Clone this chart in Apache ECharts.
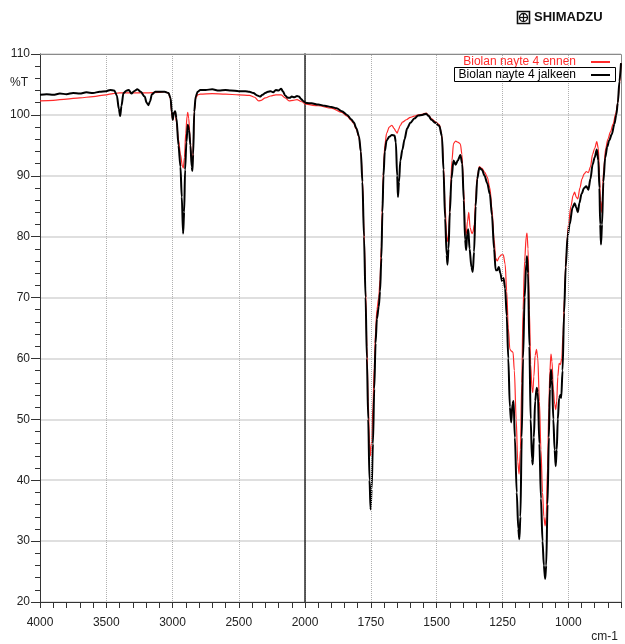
<!DOCTYPE html>
<html>
<head>
<meta charset="utf-8">
<title>FTIR – Biolan nayte 4</title>
<script src="https://cdn.jsdelivr.net/npm/echarts@6/dist/echarts.min.js"></script>
<style>
  html, body { margin: 0; padding: 0; background: #fff; }
  #chart { width: 625px; height: 644px; }
</style>
</head>
<body>
<div id="chart"></div>
<script>
// Series names
const NAME_ENNEN = 'Biolan nayte 4 ennen';
const NAME_JALKEEN = 'Biolan nayte 4 jalkeen';

// Transmittance spectra: [wavenumber cm-1, %T]
const ennen = [
  [4000,102.3],[3900,102.4],[3800,102.6],[3700,102.8],[3600,103.0],[3500,103.3],
  [3450,103.5],[3400,103.6],[3300,103.6],[3200,103.6],[3100,103.7],[3060,103.8],
  [3030,103.6],[3015,102.6],[3005,100.0],[2998,99.2],[2990,100.3],[2980,100.2],
  [2970,98.8],[2955,96.0],[2940,93.5],[2925,91.6],[2918,91.3],[2910,93.0],
  [2900,97.0],[2890,99.8],[2885,100.4],[2878,99.5],[2868,96.5],[2858,92.8],
  [2851,91.6],[2845,93.8],[2836,100.5],[2825,102.7],[2810,103.3],[2790,103.4],
  [2700,103.5],[2600,103.4],[2500,103.3],[2420,103.2],[2380,102.9],[2350,102.3],
  [2330,102.4],[2300,102.8],[2260,103.1],[2220,103.3],[2180,103.3],[2150,102.8],
  [2120,102.3],[2090,102.4],[2060,102.5],[2030,102.2],[2000,101.8],
  [1950,101.5],[1900,101.1],[1860,100.4],[1840,99.8],[1825,99.1],[1815,98.6],
  [1805,97.6],[1795,96.3],[1788,94.0],[1782,89.5],[1776,81.0],[1770,71.5],
  [1765,62.0],[1760,53.0],[1755,46.0],[1751,44.0],[1747,46.5],[1742,52.0],
  [1737,58.5],[1732,64.5],[1727,68.0],[1720,70.0],[1715,73.0],[1710,78.5],
  [1706,85.5],[1702,91.0],[1697,95.0],[1690,97.0],[1680,98.0],[1670,98.3],
  [1662,97.8],[1655,97.3],[1650,97.0],[1645,97.6],[1638,98.3],[1630,98.8],
  [1615,99.2],[1600,99.6],[1585,99.8],[1570,100.0],[1555,100.1],[1540,100.3],
  [1530,99.9],[1520,99.4],[1505,98.9],[1490,98.4],[1480,96.6],[1474,91.5],
  [1468,85.0],[1462,80.0],[1458,79.2],[1454,81.0],[1448,87.0],[1442,92.5],
  [1436,95.3],[1428,95.7],[1418,95.5],[1410,95.2],[1404,93.5],[1398,88.0],
  [1392,81.5],[1388,80.3],[1383,82.5],[1378,84.0],[1373,81.5],[1366,80.5],
  [1362,80.8],[1357,82.0],[1352,86.0],[1346,89.8],[1338,91.5],[1328,91.2],
  [1318,90.6],[1308,89.8],[1298,88.0],[1290,84.5],[1282,79.5],[1276,76.5],
  [1270,76.0],[1262,76.7],[1254,77.0],[1247,77.0],[1240,75.5],[1234,71.0],
  [1228,65.0],[1222,61.5],[1216,61.2],[1210,61.0],[1205,58.0],[1198,50.0],
  [1192,43.0],[1187,41.0],[1182,45.0],[1177,56.0],[1172,68.0],[1166,76.0],
  [1160,80.0],[1157,80.6],[1153,78.0],[1148,68.0],[1143,59.0],[1138,55.0],
  [1135,54.4],[1131,57.0],[1126,60.5],[1121,61.5],[1116,60.0],[1110,53.0],
  [1104,45.0],[1098,38.0],[1093,34.0],[1088,32.5],[1084,34.0],[1079,42.0],
  [1074,52.0],[1070,58.0],[1066,60.7],[1062,59.5],[1057,55.0],[1052,52.5],
  [1048,51.6],[1044,53.0],[1040,57.0],[1035,59.2],[1030,59.0],[1025,60.0],
  [1020,64.0],[1015,70.0],[1008,77.0],[1000,82.0],[990,85.0],[982,86.8],
  [976,87.3],[970,86.5],[964,86.2],[956,88.0],[948,89.5],[940,90.3],
  [932,90.7],[924,90.5],[916,91.5],[908,93.5],[900,94.5],[892,95.6],
  [886,94.5],[882,90.5],[878,86.0],[875,84.0],[871,86.0],[866,91.0],
  [858,94.5],[850,96.0],[840,97.2],[830,98.5],[820,100.2],[812,102.0],
  [806,105.0],[800,108.5]
];

const jalkeen = [
  [4000,103.3],[3950,103.4],[3900,103.3],[3850,103.5],[3800,103.4],[3750,103.6],
  [3700,103.5],[3650,103.7],[3600,103.6],[3550,103.8],[3500,103.9],[3470,104.1],
  [3440,104.0],[3420,103.2],[3405,101.0],[3395,99.8],[3385,101.5],[3370,103.6],
  [3345,104.0],[3330,104.1],[3310,103.5],[3290,103.9],[3265,104.2],[3240,103.8],
  [3210,103.0],[3195,102.0],[3182,101.6],[3170,102.2],[3155,103.4],[3130,103.8],
  [3100,103.8],[3060,103.8],[3030,103.6],[3015,102.8],[3005,100.5],[2998,99.2],
  [2990,100.3],[2980,100.6],[2970,99.5],[2955,95.0],[2940,91.5],[2930,86.5],
  [2920,80.5],[2912,84.0],[2905,91.0],[2895,95.5],[2885,98.4],[2875,97.5],
  [2865,95.0],[2855,91.5],[2850,90.8],[2844,93.5],[2836,100.5],[2825,103.0],
  [2810,103.8],[2790,104.1],[2750,104.1],[2700,104.2],[2650,104.0],[2600,104.1],
  [2560,104.0],[2500,103.9],[2450,103.9],[2420,103.8],[2390,103.6],[2360,103.2],
  [2340,103.0],[2320,103.3],[2300,103.6],[2280,103.8],[2260,103.9],[2240,103.7],
  [2220,104.1],[2200,104.0],[2180,104.3],[2165,103.8],[2150,103.2],[2130,102.8],
  [2115,102.8],[2100,103.0],[2080,102.9],[2060,103.1],[2045,103.0],[2030,102.6],
  [2015,102.3],[2000,102.0],
  [1975,101.9],[1950,101.7],[1925,101.5],[1900,101.3],[1880,101.1],[1860,100.6],
  [1840,100.0],[1825,99.3],[1815,98.8],[1805,97.8],[1795,96.5],[1788,94.0],
  [1782,89.0],[1776,80.0],[1770,70.0],[1765,60.0],[1760,50.0],[1755,40.0],
  [1751,35.2],[1747,38.5],[1742,46.0],[1737,55.0],[1732,62.5],[1727,66.5],
  [1720,68.5],[1715,71.0],[1710,76.5],[1706,84.0],[1702,90.0],[1697,94.0],
  [1690,95.8],[1680,96.4],[1670,96.7],[1660,96.6],[1655,95.5],[1650,90.0],
  [1647,86.5],[1643,89.0],[1638,92.5],[1630,94.3],[1622,96.0],[1612,97.8],
  [1600,98.7],[1585,99.4],[1570,99.9],[1555,100.0],[1540,100.2],[1530,99.8],
  [1520,99.2],[1505,98.7],[1490,98.2],[1480,96.5],[1474,91.0],[1468,83.0],
  [1462,77.0],[1459,75.4],[1455,78.0],[1450,84.0],[1444,89.5],[1436,92.5],
  [1428,91.8],[1420,92.5],[1410,93.4],[1403,92.0],[1397,86.0],[1392,79.5],
  [1388,77.8],[1384,80.5],[1380,81.2],[1375,78.0],[1368,75.0],[1363,74.2],
  [1358,77.5],[1352,85.0],[1346,89.5],[1338,91.3],[1328,91.0],[1318,90.0],
  [1308,88.8],[1298,87.0],[1290,83.5],[1282,78.0],[1276,74.5],[1270,74.5],
  [1264,75.0],[1258,74.0],[1252,72.7],[1246,73.2],[1240,71.5],[1234,67.0],
  [1228,60.0],[1222,52.0],[1217,49.5],[1212,52.5],[1208,53.0],[1203,47.0],
  [1196,38.0],[1190,32.0],[1186,30.3],[1182,34.0],[1177,47.0],[1172,60.0],
  [1166,70.0],[1160,75.5],[1157,76.8],[1153,74.0],[1148,62.0],[1143,50.0],
  [1138,43.5],[1135,42.6],[1131,47.0],[1126,53.0],[1120,55.2],[1116,54.5],
  [1110,46.0],[1104,37.0],[1098,30.0],[1093,26.0],[1088,23.8],[1084,26.0],
  [1079,36.0],[1074,47.0],[1070,55.0],[1066,58.2],[1062,56.5],[1057,50.0],
  [1052,45.0],[1048,42.3],[1044,45.0],[1040,50.0],[1035,53.5],[1030,54.0],
  [1027,53.5],[1022,58.0],[1016,67.5],[1010,75.0],[1003,80.0],[995,82.0],
  [984,84.8],[976,85.5],[970,84.8],[964,84.0],[958,85.5],[950,87.0],
  [940,88.0],[932,88.3],[924,87.7],[916,89.5],[908,91.8],[900,93.0],
  [892,94.3],[886,92.5],[882,88.0],[879,82.0],[876,78.7],[872,82.0],
  [867,89.0],[860,93.0],[852,94.8],[845,95.8],[835,96.8],[825,98.5],
  [818,100.0],[812,102.0],[806,105.5],[800,108.5]
];

// Axis ranges: the scale doubles below 2000 cm-1
const HIGH_RANGE = [2000, 4000];
const LOW_RANGE = [800, 2000];
const T_RANGE = [20, 110];
const LOW_LABELS = [1750, 1500, 1250, 1000];

const FONT = '"Liberation Sans", Arial, sans-serif';
const RED = '#ff2a2a';
const AXIS_COLOR = '#333';

const inRange = (data, r) => data.filter(p => p[0] >= r[0] && p[0] <= r[1]);

const layout = { left: 40, split: 305, right: 621, top: 54, bottom: 602 };

const chart = echarts.init(document.getElementById('chart'), null, { renderer: 'canvas' });

const baseXAxis = {
  type: 'value',
  inverse: true,
  axisLine: { show: true, onZero: false, lineStyle: { color: AXIS_COLOR, width: 1 } },
  axisTick: { show: true, length: 6, lineStyle: { color: AXIS_COLOR } },
  axisLabel: { fontSize: 12, color: '#222', fontFamily: FONT, margin: 15, formatter: v => String(v) }
};

const baseYAxis = {
  type: 'value',
  min: T_RANGE[0],
  max: T_RANGE[1],
  interval: 10,
  splitLine: { show: true, lineStyle: { color: '#d4d4d4', width: 1.5 } }
};

const line = (name, data, xi, color, width, z) => ({
  name,
  type: 'line',
  xAxisIndex: xi,
  yAxisIndex: xi,
  data,
  symbol: 'none',
  smooth: 0.3,
  smoothMonotone: 'x',
  z,
  lineStyle: { color, width },
  itemStyle: { color },
  emphasis: { disabled: true }
});

const lowRed = line(NAME_ENNEN, inRange(ennen, LOW_RANGE), 1, RED, 1.2, 3);
lowRed.markLine = {
  silent: true,
  symbol: 'none',
  label: { show: false },
  lineStyle: { type: 'dotted', color: '#b0b0b0', width: 1 },
  data: LOW_LABELS.map(v => ({ xAxis: v }))
};

chart.setOption({
  animation: false,
  backgroundColor: '#fff',
  grid: [
    { left: layout.left, width: layout.split - layout.left, top: layout.top, height: layout.bottom - layout.top },
    { left: layout.split, width: layout.right - layout.split, top: layout.top, height: layout.bottom - layout.top }
  ],
  xAxis: [
    Object.assign({}, baseXAxis, {
      gridIndex: 0,
      min: HIGH_RANGE[0],
      max: HIGH_RANGE[1],
      interval: 500,
      minorTick: { show: true, splitNumber: 5, length: 6, lineStyle: { color: AXIS_COLOR } },
      splitLine: { show: true, lineStyle: { type: 'dotted', color: '#b0b0b0', width: 1 } }
    }),
    Object.assign({}, baseXAxis, {
      gridIndex: 1,
      min: LOW_RANGE[0],
      max: LOW_RANGE[1],
      interval: 50,
      splitLine: { show: false },
      axisLabel: Object.assign({}, baseXAxis.axisLabel, {
        formatter: v => (LOW_LABELS.indexOf(v) >= 0 ? String(v) : '')
      })
    })
  ],
  yAxis: [
    Object.assign({}, baseYAxis, {
      gridIndex: 0,
      axisLine: { show: true, lineStyle: { color: AXIS_COLOR, width: 1 } },
      axisTick: { show: true, length: 9, lineStyle: { color: AXIS_COLOR } },
      minorTick: { show: true, splitNumber: 5, length: 5, lineStyle: { color: AXIS_COLOR } },
      axisLabel: { fontSize: 12, color: '#222', fontFamily: FONT, margin: 10 }
    }),
    Object.assign({}, baseYAxis, {
      gridIndex: 1,
      position: 'left',
      axisLine: { show: true, lineStyle: { color: '#2a2a2a', width: 1.5 } },
      axisTick: { show: false },
      axisLabel: { show: false }
    })
  ],
  legend: {
    orient: 'vertical',
    right: 14,
    top: 56,
    align: 'right',
    padding: 0,
    itemWidth: 19,
    itemHeight: 10,
    itemGap: 1,
    selectedMode: false,
    itemStyle: { opacity: 0 },
    textStyle: { fontSize: 12, fontFamily: FONT, lineHeight: 12, padding: [0, 10, 0, 0] },
    data: [
      { name: NAME_ENNEN, textStyle: { color: RED } },
      { name: NAME_JALKEEN, textStyle: { color: '#000' } }
    ]
  },
  graphic: [
    // plot frame (top and right edges)
    {
      type: 'polyline', z: 1, silent: true,
      shape: { points: [[layout.left, layout.top + 0.5], [layout.right + 0.5, layout.top + 0.5], [layout.right + 0.5, layout.bottom]] },
      style: { stroke: '#8a8a8a', lineWidth: 1, fill: null }
    },
    // highlighted legend entry
    {
      type: 'rect', z: 10, silent: true,
      shape: { x: 454.5, y: 67.5, width: 161, height: 14 },
      style: { fill: 'none', stroke: '#000', lineWidth: 1 }
    },
    { type: 'text', left: 10, top: 77, silent: true,
      style: { text: '%T', fontSize: 12, fontFamily: FONT, fill: '#222' } },
    { type: 'text', right: 7, top: 631, silent: true,
      style: { text: 'cm-1', fontSize: 12, fontFamily: FONT, fill: '#222' } },
    // maker logo
    {
      type: 'group', left: 515, top: 9, silent: true,
      children: [
        { type: 'rect', shape: { x: 0.5, y: 0.5, width: 12, height: 12 }, style: { fill: 'none', stroke: '#111', lineWidth: 1.6 } },
        { type: 'circle', shape: { cx: 6.5, cy: 6.5, r: 4 }, style: { fill: 'none', stroke: '#111', lineWidth: 1.3 } },
        { type: 'line', shape: { x1: 2.5, y1: 6.5, x2: 10.5, y2: 6.5 }, style: { stroke: '#111', lineWidth: 1.2 } },
        { type: 'line', shape: { x1: 6.5, y1: 2.5, x2: 6.5, y2: 10.5 }, style: { stroke: '#111', lineWidth: 1.2 } },
        { type: 'text', x: 17, y: 0, style: { text: 'SHIMADZU', fontSize: 13, fontWeight: 'bold', fontFamily: FONT, fill: '#111' } }
      ]
    }
  ],
  series: [
    line(NAME_ENNEN, inRange(ennen, HIGH_RANGE), 0, RED, 1.2, 3),
    line(NAME_JALKEEN, inRange(jalkeen, HIGH_RANGE), 0, '#000', 2, 4),
    lowRed,
    line(NAME_JALKEEN, inRange(jalkeen, LOW_RANGE), 1, '#000', 2, 4)
  ]
});
</script>
</body>
</html>
